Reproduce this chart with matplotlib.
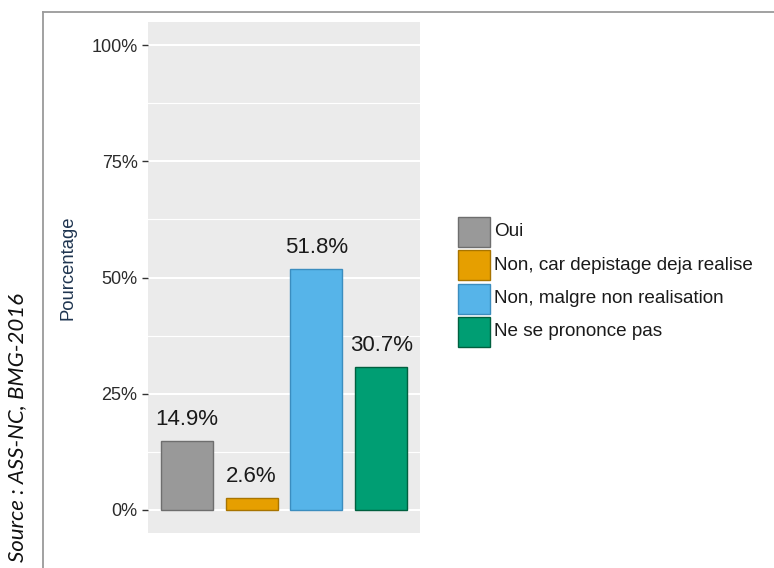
import matplotlib
matplotlib.use("Agg")
import matplotlib.pyplot as plt
from matplotlib.lines import Line2D
from matplotlib.patches import Rectangle
from matplotlib.ticker import MultipleLocator

categories = ["Oui", "Non, car depistage deja realise",
              "Non, malgre non realisation", "Ne se prononce pas"]
values = [14.9, 2.6, 51.8, 30.7]
colors = ["#999999", "#E69F00", "#56B4E9", "#009E73"]
edges = ["#6e6e6e", "#a87400", "#3b8dbf", "#00603f"]
yticks = [0, 25, 50, 75, 100]
ytick_labels = ["0%", "25%", "50%", "75%", "100%"]

plt.rcParams["font.family"] = ["Liberation Sans", "DejaVu Sans"]

W, H = 774, 568
fig = plt.figure(figsize=(W / 100, H / 100), dpi=100)
ax = fig.add_axes([148 / W, 35 / H, 272 / W, 511 / H])

xs = list(range(1, len(values) + 1))
bars = ax.bar(xs, values, width=0.8, color=colors, edgecolor=edges,
              linewidth=1.0, zorder=3)
for b, v in zip(bars, values):
    ax.annotate("%.1f%%" % v, (b.get_x() + b.get_width() / 2, v),
                xytext=(0, 11.5), textcoords="offset points",
                ha="center", va="baseline", fontsize=16, color="#1a1a1a")

ax.set_xlim(0.4, 4.6)
ax.set_ylim(-5, 105)
ax.set_facecolor("#EBEBEB")
for s in ax.spines.values():
    s.set_visible(False)
ax.set_xticks([])
ax.set_yticks(yticks)
ax.set_yticklabels(ytick_labels)
ax.yaxis.set_minor_locator(MultipleLocator(12.5))
ax.tick_params(axis="y", which="major", length=4.5, width=1, color="#333333",
               labelsize=13, labelcolor="#2b2b2b", pad=3)
ax.tick_params(axis="y", which="minor", length=0)
ax.grid(axis="y", which="major", color="white", linewidth=1.5, zorder=0)
ax.grid(axis="y", which="minor", color="white", linewidth=0.8, zorder=0)
ax.set_axisbelow(True)

fig.text(68 / W, 1 - 268 / H, "Pourcentage", rotation=90, ha="center",
         va="center", fontsize=13.3, color="#1f3550")

fig.text(17 / W, 1 - 427 / H, "Source : ASS-NC, BMG-2016", rotation=90,
         ha="center", va="center", fontsize=16, style="italic",
         family=["Lato", "DejaVu Sans"], color="#111111")

# legend: filled keys with labels to their right
key_x, key_top, key_w, key_h, key_step = 458, 217, 32, 30, 33.3
for i, (lab, c, e) in enumerate(zip(categories, colors, edges)):
    top = key_top + i * key_step
    fig.add_artist(Rectangle((key_x / W, 1 - (top + key_h) / H),
                             key_w / W, key_h / H, facecolor=c,
                             edgecolor=e, linewidth=1.0,
                             transform=fig.transFigure))
    fig.text((key_x + key_w + 4) / W, 1 - (top + key_h / 2) / H, lab,
             ha="left", va="center", fontsize=13.6, color="#1a1a1a")

# outer frame lines
fig.add_artist(Line2D([43 / W, 1], [1 - 12 / H, 1 - 12 / H],
                      color="#9a9a9a", linewidth=1.3))
fig.add_artist(Line2D([43 / W, 43 / W], [0, 1 - 12 / H],
                      color="#9a9a9a", linewidth=1.3))

fig.savefig("out.png", dpi=100)
